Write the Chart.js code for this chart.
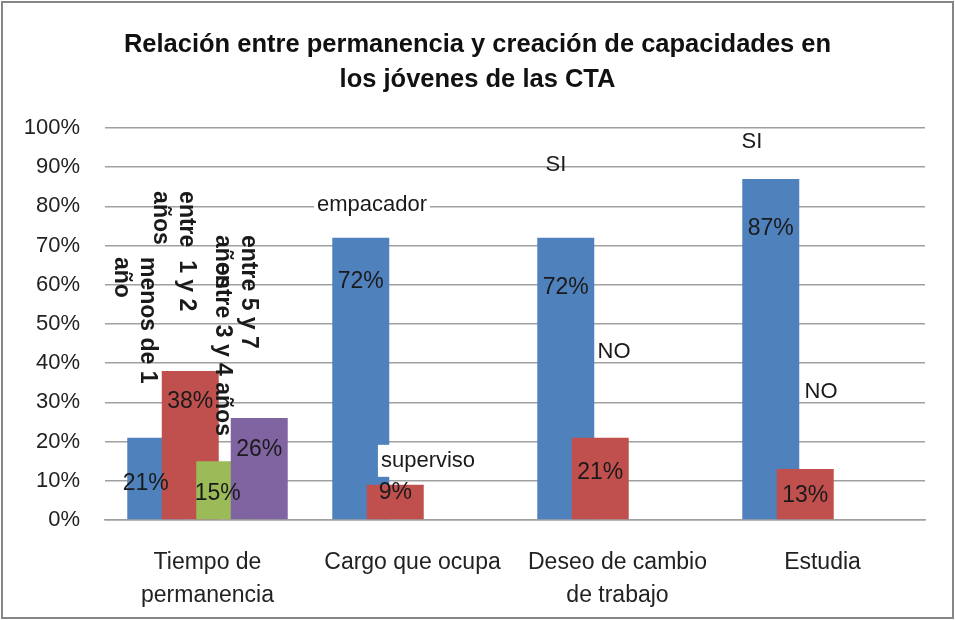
<!DOCTYPE html>
<html>
<head>
<meta charset="utf-8">
<script src="https://cdn.jsdelivr.net/npm/chart.js@4/dist/chart.umd.min.js"></script>
<style>
  html, body { margin: 0; padding: 0; background: #fff; }
  #wrap { width: 955px; height: 620px; }
</style>
</head>
<body>
<div id="wrap"><canvas id="chart"></canvas></div>
<script>
// categorías y valores (%)
const categories = [["Tiempo de", "permanencia"], "Cargo que ocupa", ["Deseo de cambio", "de trabajo"], "Estudia"];
const serie1 = [21, 72, 72, 87];
const serie2 = [38, 9, 21, 13];
const serie3 = [15, null, null, null];
const serie4 = [26, null, null, null];
const yTicks = ["0%", "10%", "20%", "30%", "40%", "50%", "60%", "70%", "80%", "90%", "100%"];
const titleLines = ["Relación entre permanencia y creación de capacidades en", "los jóvenes de las CTA"];

// textos sueltos del gráfico
const tiempoLabels = [["menos de 1", "año"], ["entre  1 y 2", "años"], ["entre 3 y 4 años"], ["entre 5 y 7", "años"]];
const notes = ["empacador", "superviso", "SI", "NO", "SI", "NO"];

// ajustes de posición (px / valor) de las etiquetas
const tiempoPos = [[-8, 67.1], [-3.5, 83.9], [-2.5, 65.8], [-11, 72.7]];
const notePos = [
  { cat: 1, dx: -40.5, y: 80.4, bg: true },
  { cat: 1, dx: 15.5, y: 15.1, bg: true },
  { cat: 2, dx: -61.5, y: 90.6 },
  { cat: 2, dx: -3.5, y: 42.9 },
  { cat: 3, dx: -70.5, y: 96.4 },
  { cat: 3, dx: -1.5, y: 32.7 },
];
const labelNudge = [
  [[-10, 46], [0, 44], [0, 50], [0, 50]],
  [[0, 31], [0, 8], [0, 35], [0, 27]],
  [[-7, 32]],
  [[0, 32]],
];

const FONT = "'Liberation Sans', Arial, sans-serif";
Chart.defaults.font.family = FONT;
Chart.defaults.color = "#222";

function drawLabels(chart) {
  const c = chart.ctx;
  const xs = chart.scales.x, ys = chart.scales.y;
  c.save();
  c.textAlign = "center";
  c.textBaseline = "middle";

  // título
  c.fillStyle = "#111";
  c.font = "bold 25.5px " + FONT;
  titleLines.forEach((t, i) => c.fillText(t, chart.width / 2, 45 + i * 35));

  c.fillStyle = "#1a1a1a";
  // valores dentro de las barras
  c.font = "23px " + FONT;
  chart.data.datasets.forEach((ds, d) => {
    const meta = chart.getDatasetMeta(d);
    ds.data.forEach((v, i) => {
      if (v == null) return;
      const bar = meta.data[i];
      const n = labelNudge[d][i] || [0, 30];
      c.fillText(v + "%", bar.x + n[0], bar.y + n[1]);
    });
  });

  // notas
  c.font = "22px " + FONT;
  notes.forEach((t, k) => {
    const p = notePos[k];
    const x = xs.getPixelForValue(p.cat) + p.dx;
    const y = ys.getPixelForValue(p.y);
    if (p.bg) {
      const w = c.measureText(t).width + 6;
      c.fillStyle = "#fff";
      c.fillRect(x - w / 2, y - 16, w, 32);
      c.fillStyle = "#1a1a1a";
    }
    c.fillText(t, x, y);
  });

  // etiquetas giradas de "Tiempo de permanencia"
  c.font = "bold 23px " + FONT;
  c.textAlign = "left";
  tiempoLabels.forEach((lines, d) => {
    const bar = chart.getDatasetMeta(d).data[0];
    const x = bar.x + tiempoPos[d][0];
    const y = ys.getPixelForValue(tiempoPos[d][1]);
    c.save();
    c.translate(x, y);
    c.rotate(Math.PI / 2);
    lines.forEach((ln, j) => c.fillText(ln, 0, j * 26));
    c.restore();
  });
  c.restore();
}

const extras = {
  id: "extras",
  beforeDraw(chart) {
    const c = chart.ctx;
    c.save();
    c.fillStyle = "#fff";
    c.fillRect(0, 0, chart.width, chart.height);
    c.restore();
  },
  // las series posteriores quedan encima (como en Excel)
  beforeDatasetsDraw(chart) {
    for (let d = 0; d < chart.data.datasets.length; d++) {
      chart.getDatasetMeta(d).controller.draw();
    }
    return false;
  },
  afterDraw(chart) {
    drawLabels(chart);
    const c = chart.ctx;
    c.save();
    c.strokeStyle = "#868686";
    c.lineWidth = 2;
    c.strokeRect(2, 2, chart.width - 4, chart.height - 4);
    c.restore();
  }
};

new Chart(document.getElementById("chart"), {
  type: "bar",
  data: {
    labels: categories,
    datasets: [
      { label: "Serie1", data: serie1, backgroundColor: "#4F81BD" },
      { label: "Serie2", data: serie2, backgroundColor: "#C0504D" },
      { label: "Serie3", data: serie3, backgroundColor: "#9BBB59" },
      { label: "Serie4", data: serie4, backgroundColor: "#8064A2" },
    ],
  },
  options: {
    responsive: true,
    maintainAspectRatio: false,
    animation: false,
    layout: { padding: { left: 0, right: 30, top: 128, bottom: 0 } },
    datasets: { bar: { categoryPercentage: 0.673, barPercentage: 1.652 } },
    scales: {
      x: {
        grid: { display: false },
        border: { display: true, color: "#a0a0a0", width: 1.5 },
        ticks: { font: { size: 23, lineHeight: 1.45 }, padding: 18, maxRotation: 0, autoSkip: false, color: "#222" },
        afterFit(scale) { scale.height = 100; },
      },
      y: {
        min: 0,
        max: 100,
        ticks: {
          stepSize: 10,
          padding: 25,
          font: { size: 22 },
          color: "#222",
          callback: (v) => yTicks[v / 10],
        },
        grid: { color: "#a0a0a0", lineWidth: 1.5, drawTicks: false },
        border: { display: false },
        afterFit(scale) { scale.width = 105; },
      },
    },
    plugins: {
      legend: { display: false },
      tooltip: { enabled: false },
      title: { display: false },
    },
  },
  plugins: [extras],
});
</script>
</body>
</html>
